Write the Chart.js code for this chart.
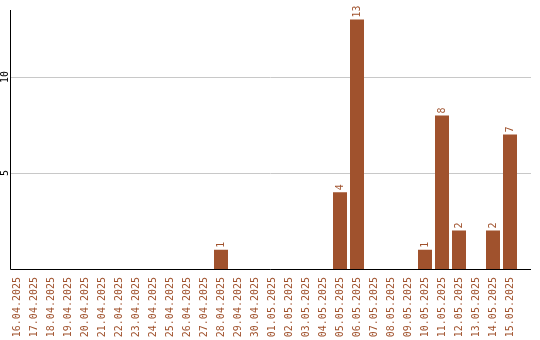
<!DOCTYPE html>
<html><head><meta charset="utf-8">
<script src="https://cdn.jsdelivr.net/npm/chart.js@4/dist/chart.umd.min.js"></script>
<style>html,body{margin:0;padding:0;background:#fff}#w{width:540px;height:340px}</style>
</head><body><div id="w"><canvas id="c"></canvas></div>
<script>
const categories = ["16.04.2025","17.04.2025","18.04.2025","19.04.2025","20.04.2025","21.04.2025","22.04.2025","23.04.2025","24.04.2025","25.04.2025","26.04.2025","27.04.2025","28.04.2025","29.04.2025","30.04.2025","01.05.2025","02.05.2025","03.05.2025","04.05.2025","05.05.2025","06.05.2025","07.05.2025","08.05.2025","09.05.2025","10.05.2025","11.05.2025","12.05.2025","13.05.2025","14.05.2025","15.05.2025"];
const values = [0,0,0,0,0,0,0,0,0,0,0,0,1,0,0,0,0,0,0,4,13,0,0,0,1,8,2,0,2,7];
const yTicks = [5,10];

const BROWN = '#A0522D';
const FONT = '"DejaVu Sans Mono", monospace';

const frame = {
  id: 'frame',
  beforeDatasetsDraw(chart) {
    const ctx = chart.ctx;
    const y = chart.scales.y;
    const area = chart.chartArea;
    const L = 10, R = 531;
    ctx.save();
    ctx.lineWidth = 1;
    ctx.strokeStyle = '#c8c8c8';
    yTicks.forEach(t => {
      const py = Math.round(y.getPixelForValue(t)) + 0.5;
      ctx.beginPath(); ctx.moveTo(L, py); ctx.lineTo(R, py); ctx.stroke();
    });
    ctx.restore();
  },
  afterDatasetsDraw(chart) {
    const ctx = chart.ctx;
    const y = chart.scales.y;
    const area = chart.chartArea;
    const L = 10, R = 531;
    ctx.save();
    // axes
    ctx.strokeStyle = '#000';
    ctx.lineWidth = 1;
    const by = Math.round(y.getPixelForValue(0)) + 0.5;
    ctx.beginPath(); ctx.moveTo(L + 0.5, area.top); ctx.lineTo(L + 0.5, by); ctx.lineTo(R, by); ctx.stroke();
    // value labels
    const meta = chart.getDatasetMeta(0);
    ctx.font = '10px ' + FONT;
    ctx.fillStyle = BROWN;
    ctx.textAlign = 'left';
    ctx.textBaseline = 'middle';
    meta.data.forEach((bar, i) => {
      const v = values[i];
      if (!v) return;
      ctx.save();
      ctx.translate(bar.x, bar.y - 2);
      ctx.rotate(-Math.PI / 2);
      ctx.fillText(String(v), 0, 0);
      ctx.restore();
    });
    // y tick labels
    ctx.fillStyle = '#000';
    ctx.textAlign = 'center';
    yTicks.forEach(t => {
      ctx.save();
      ctx.translate(5, y.getPixelForValue(t));
      ctx.rotate(-Math.PI / 2);
      ctx.fillText(String(t), 0, 0);
      ctx.restore();
    });
    ctx.restore();
  }
};

new Chart(document.getElementById('c'), {
  type: 'bar',
  data: {
    labels: categories,
    datasets: [{
      data: values,
      backgroundColor: BROWN,
      barPercentage: 14 / 17,
      categoryPercentage: 1.0
    }]
  },
  options: {
    responsive: true,
    maintainAspectRatio: false,
    animation: false,
    events: [],
    layout: { padding: { top: 10, right: 21.5, left: 0, bottom: 0 } },
    plugins: { legend: { display: false }, tooltip: { enabled: false } },
    scales: {
      x: {
        grid: { display: false, drawTicks: false },
        border: { display: false },
        ticks: {
          autoSkip: false,
          minRotation: 90,
          maxRotation: 90,
          padding: 8,
          color: BROWN,
          font: { family: FONT, size: 10 }
        },
        afterFit(s) { s.height = 71; }
      },
      y: {
        min: 0,
        max: 259 / 19.2,
        grid: { display: false, drawTicks: false },
        border: { display: false },
        ticks: { stepSize: 5, display: false },
        afterFit(s) { s.width = 8.5; }
      }
    }
  },
  plugins: [frame]
});
</script>
</body></html>
